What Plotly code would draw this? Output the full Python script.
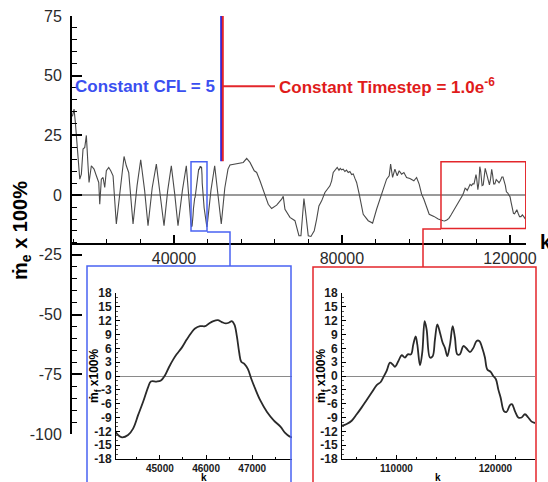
import plotly.graph_objects as go

W, H = 548, 482


def px(x):
    return x / W


def py(y):
    return 1 - y / H


FONT = "Liberation Sans, Arial, sans-serif"

# Mass-flow error history, coarse sampling (k = iteration)
k_main = [15800, 16190, 16500, 16980, 17550, 17930, 18330, 18740, 19120, 19520,
          19760, 20310, 20950, 21500, 22070, 22310, 22690, 23100, 23500, 23880,
          24450, 24930, 25480, 26260, 27070, 28100, 28640, 29210, 30240, 31200,
          32070, 33000, 33810, 34800, 35790, 36700, 37620, 38500, 39360, 40200,
          40950, 42000, 42930,
          48800, 49690, 50500, 51260, 52100, 52860, 53330, 55310, 56500, 57310,
          58100, 59120, 59690, 60480, 61500, 62450, 63260, 64450, 65640, 66020,
          66430, 67620, 68810, 69760, 70240, 70640, 70950, 71360, 71980, 72620,
          73410, 73980, 74520, 75170, 75950, 77140, 77550, 77930, 78880, 79300,
          79600, 79930, 80300, 80710, 81100, 81500, 81900, 82310, 82700, 83100,
          83500, 84120, 85070, 86260, 87310, 88260, 89450, 90240, 90640, 91260,
          91600, 92070, 92620, 93170, 93640, 94210, 94760, 95400, 96190, 97140,
          97790, 98400, 98980, 99520, 100170, 100790, 101910, 102930, 104120]
me_main = [33.0, 36.0, 30.4, 19.3, 6.7, 8.8, 19.3, 20.0, 25.0, 12.3,
           5.3, 12.3, 10.9, 8.1, 5.3, -3.8, 6.7, 7.4, 3.2, 10.2,
           11.6, 10.2, 8.1, -12.1, 1.1, 16.2, 12.3, 9.5, -12.1, 4.0,
           14.8, 2.0, -12.8, 3.0, 13.0, 1.0, -12.8, 2.0, 12.3, 0.0,
           -12.8, 2.0, 12.3,
           2.0, 12.3, 0.0, -12.1, 3.0, 10.9, 12.6, 13.4, 13.7, 15.4,
           13.7, 10.2, 9.5, 6.0, 0.4, -3.8, -5.6, -4.2, -1.7, -0.5,
           -5.9, -9.3, -10.7, -17.0, -17.0, -5.9, -1.4, -7.3, -17.0, -17.3,
           -14.9, -10.0, -4.5, -2.4, 1.1, 3.9, 6.0, 9.5, 11.6, 10.4,
           11.2, 10.6, 10.9, 9.9, 10.5, 9.5, 9.9, 8.6, 8.9, 7.0,
           5.3, 0.4, -8.0, -10.7, -11.7, -5.9, 0.4, 3.9, 6.7, 8.1,
           13.0, 7.4, 10.9, 8.1, 10.2, 8.8, 9.5, 7.4, 7.0, 6.0,
           7.4, 4.6, 0.4, -1.7, -5.2, -8.0, -8.9, -10.0, -10.7]

# Detailed window, constant CFL = 5
k_cfl = [44006, 44093, 44180, 44311, 44420, 44528, 44637, 44746, 44804, 44928,
         45022, 45109, 45196, 45290, 45362, 45471, 45580, 45689, 45761, 45870,
         45978, 46065, 46159, 46254, 46341, 46428, 46500, 46558, 46616, 46667,
         46717, 46761, 46833, 46906, 46978, 47065, 47174, 47319, 47464, 47609,
         47717, 47804, 47862]
mf_cfl = [-11.4, -12.8, -13.3, -12.8, -11.4, -8.5, -5.6, -2.4, -1.2, -1.2,
          -1.0, 0.1, 1.9, 3.6, 4.7, 6.1, 7.9, 9.5, 10.3, 10.8,
          10.8, 11.4, 11.9, 12.1, 11.7, 11.4, 11.6, 11.9, 11.1, 8.6,
          5.1, 3.1, 2.6, 1.5, -0.6, -2.8, -5.3, -7.8, -9.6, -11.0,
          -12.4, -13.1, -13.3]

# Detailed window, constant timestep
k_dt = [104470, 104975, 105480, 105985, 106490, 106995, 107500, 108005, 108410, 108670,
        109010, 109350, 109620, 109850, 110190, 110530, 110860, 111140, 111470, 111700,
        111940, 112110, 112380, 112610, 112850, 113050, 113390, 113660, 113890, 114130,
        114400, 114670, 114900, 115140, 115410, 115680, 115910, 116150, 116420, 116760,
        117100, 117430, 117770, 118100, 118370, 118710, 118940, 119180, 119520, 119780,
        120050, 120290, 120530, 120860, 121130, 121470, 121670, 121970, 122310, 122650,
        122980, 123320, 123660, 124000]
mf_dt = [-10.8, -10.4, -9.7, -8.3, -6.8, -5.2, -3.6, -2.0, -1.3, -0.3,
         1.1, 2.9, 2.5, 2.0, 3.2, 4.5, 4.0, 4.7, 4.7, 6.8,
         8.6, 6.8, 2.3, 5.1, 11.9, 10.1, 4.0, 4.3, 7.9, 11.2,
         9.4, 7.2, 6.1, 4.3, 6.8, 10.8, 8.3, 4.7, 4.7, 6.5,
         5.9, 5.2, 6.1, 7.6, 7.6, 5.8, 4.0, 1.4, 0.9, 0.0,
         -0.7, -2.9, -4.7, -7.6, -7.8, -6.3, -6.1, -7.6, -9.0, -9.0,
         -8.3, -9.0, -9.9, -10.2]

# Tick positions
x_ticks_main = [40000, 80000, 120000]
y_ticks_main = [-100, -75, -50, -25, 0, 25, 50, 75]
x_ticks_cfl = [45000, 46000, 47000]
x_ticks_dt = [110000, 120000]
y_ticks_inset = [-18, -15, -12, -9, -6, -3, 0, 3, 6, 9, 12, 15, 18]

cfl_range = [44050, 47860]
dt_range = [104500, 124000]
switch_k = 51430


def labels(vals):
    return [str(v) for v in vals]


# full history: coarse samples with the detailed windows spliced in
merged = sorted(zip(k_main + k_cfl + k_dt, me_main + mf_cfl + mf_dt))
k_all = [p[0] for p in merged]
me_all = [p[1] for p in merged]

fig = go.Figure()
fig.add_trace(go.Scatter(x=k_all, y=me_all, mode="lines",
                         line=dict(color="#4a4a4a", width=1.1),
                         xaxis="x", yaxis="y", hoverinfo="skip"))
fig.add_trace(go.Scatter(x=k_cfl, y=mf_cfl, mode="lines",
                         line=dict(color="#2a2a2a", width=1.8, shape="spline"),
                         xaxis="x2", yaxis="y2", hoverinfo="skip"))
fig.add_trace(go.Scatter(x=k_dt, y=mf_dt, mode="lines",
                         line=dict(color="#2a2a2a", width=1.8, shape="spline"),
                         xaxis="x3", yaxis="y3", hoverinfo="skip"))

BLUE = "#4a63f2"
RED = "#e3262b"
BLUE_TXT = "#3a4ff0"
RED_TXT = "#e01b1b"

main_tick_font = dict(family=FONT, size=16, color="#2a2a2a")
inset_y_font = dict(family=FONT, size=12, color="#1a1a1a", weight="bold")
inset_x_font = dict(family=FONT, size=10, color="#1a1a1a", weight="bold")


def inset_x(domain, rng, anchor, tickvals, minor_dtick):
    return dict(domain=domain, range=rng, anchor=anchor,
                showline=True, linecolor="black", linewidth=1,
                showgrid=False, zeroline=False, automargin=False,
                tickmode="array", tickvals=tickvals, ticktext=labels(tickvals),
                ticks="inside", ticklen=4, tickcolor="black",
                minor=dict(dtick=minor_dtick, tick0=0, ticks="inside", ticklen=2,
                           tickcolor="black"),
                tickfont=inset_x_font, ticklabelstandoff=0)


def inset_y(domain, anchor):
    return dict(domain=domain, range=[-18, 18], anchor=anchor,
                showline=True, linecolor="black", linewidth=1,
                showgrid=False, zeroline=True, zerolinecolor="#8a8a8a",
                zerolinewidth=1.2, automargin=False,
                tickmode="array", tickvals=y_ticks_inset,
                ticktext=labels(y_ticks_inset),
                ticks="inside", ticklen=4, tickcolor="black",
                minor=dict(dtick=1, tick0=0, ticks="inside", ticklen=2,
                           tickcolor="#555"),
                tickfont=inset_y_font, ticklabelstandoff=1)


layout = dict(
    width=W, height=H, autosize=False,
    margin=dict(l=0, r=0, t=0, b=0, pad=0, autoexpand=False),
    paper_bgcolor="white", plot_bgcolor="white",
    showlegend=False,
    xaxis=dict(domain=[px(72), px(526)], range=[15700, 123850],
               anchor="free", position=py(244), automargin=False,
               showline=True, linecolor="black", linewidth=2,
               showgrid=False, zeroline=False,
               tickmode="array", tickvals=x_ticks_main,
               ticktext=labels(x_ticks_main),
               ticks="inside", ticklen=8, tickwidth=2, tickcolor="black",
               minor=dict(dtick=8000, tick0=0, ticks="inside", ticklen=4,
                          tickwidth=1, tickcolor="black", showgrid=False),
               tickfont=main_tick_font),
    yaxis=dict(domain=[py(434), py(16)], range=[-100, 75], anchor="x",
               automargin=False,
               showline=True, linecolor="black", linewidth=2,
               showgrid=False, zeroline=True, zerolinecolor="#9a9a9a",
               zerolinewidth=1.5,
               tickmode="array", tickvals=y_ticks_main,
               ticktext=labels(y_ticks_main),
               ticks="inside", ticklen=10, tickwidth=2, tickcolor="black",
               minor=dict(dtick=5, tick0=0, ticks="inside", ticklen=5, tickwidth=1,
                          tickcolor="black", showgrid=False),
               tickfont=main_tick_font, ticklabelstandoff=5),
    xaxis2=inset_x([px(116), px(292)], cfl_range, "y2", x_ticks_cfl, 500),
    yaxis2=inset_y([py(459), py(293)], "x2"),
    xaxis3=inset_x([px(342), px(535)], dt_range, "y3", x_ticks_dt, 2000),
    yaxis3=inset_y([py(459), py(293)], "x3"),
)

shapes = [
    # switch between the two time-stepping strategies
    dict(type="line", xref="x", yref="y", x0=switch_k - 190, x1=switch_k - 190,
         y0=14.2, y1=75, line=dict(color="#2323e0", width=2)),
    dict(type="line", xref="x", yref="y", x0=switch_k + 190, x1=switch_k + 190,
         y0=14.2, y1=75, line=dict(color=RED, width=2)),
    dict(type="line", xref="x", yref="y", x0=switch_k, x1=64050,
         y0=45.6, y1=45.6, line=dict(color=RED, width=2)),
    # zoom windows in the history plot
    dict(type="rect", xref="x", yref="y", x0=cfl_range[0], x1=cfl_range[1],
         y0=-15.0, y1=14.0, line=dict(color=BLUE, width=1.5)),
    dict(type="rect", xref="x", yref="y", x0=103600, x1=123800,
         y0=-14.0, y1=14.0, line=dict(color=RED, width=1.5)),
    # connectors to the inset frames
    dict(type="path", xref="paper", yref="paper",
         path=f"M {px(207)} {py(232)} L {px(230)} {py(232)} L {px(230)} {py(266)}",
         line=dict(color=BLUE, width=1.5)),
    dict(type="path", xref="paper", yref="paper",
         path=f"M {px(441)} {py(229)} L {px(423)} {py(229)} L {px(423)} {py(267)}",
         line=dict(color=RED, width=1.5)),
    # inset frames
    dict(type="rect", xref="paper", yref="paper", x0=px(87), x1=px(291),
         y0=py(492), y1=py(266), line=dict(color=BLUE, width=1.5)),
    dict(type="rect", xref="paper", yref="paper", x0=px(313), x1=px(536),
         y0=py(492), y1=py(267), line=dict(color=RED, width=1.5)),
]

annotations = [
    dict(text="<b>Constant CFL = 5</b>", xref="x", yref="y", x=50300, y=45.6,
         xanchor="right", yanchor="middle", showarrow=False,
         font=dict(family=FONT, size=17, color=BLUE_TXT)),
    dict(text="<b>Constant Timestep = 1.0e<sup>-6</sup></b>", xref="x", yref="y",
         x=64500, y=45.6, xanchor="left", yanchor="middle", showarrow=False,
         font=dict(family=FONT, size=17, color=RED_TXT)),
    dict(text="<b>ṁ<sub>e</sub> x 100%</b>", xref="paper", yref="paper",
         x=px(21), y=py(231), textangle=-90, xanchor="center", yanchor="middle",
         showarrow=False, font=dict(family=FONT, size=20, color="black")),
    dict(text="<b>k</b>", xref="paper", yref="paper", x=px(538), y=py(242),
         xanchor="left", yanchor="middle", showarrow=False,
         font=dict(family=FONT, size=20, color="black")),
    dict(text="<b>ṁ<sub>f</sub> x100%</b>", xref="paper", yref="paper",
         x=px(95), y=py(376), textangle=-90, xanchor="center", yanchor="middle",
         showarrow=False, font=dict(family=FONT, size=12, color="black")),
    dict(text="<b>ṁ<sub>f</sub> x100%</b>", xref="paper", yref="paper",
         x=px(322), y=py(376), textangle=-90, xanchor="center", yanchor="middle",
         showarrow=False, font=dict(family=FONT, size=12, color="black")),
    dict(text="<b>k</b>", xref="paper", yref="paper", x=px(204), y=py(477.5),
         xanchor="center", yanchor="middle", showarrow=False, borderpad=0,
         font=dict(family=FONT, size=10, color="black")),
    dict(text="<b>k</b>", xref="paper", yref="paper", x=px(438), y=py(477.5),
         xanchor="center", yanchor="middle", showarrow=False, borderpad=0,
         font=dict(family=FONT, size=10, color="black")),
]

fig.update_layout(**layout, shapes=shapes, annotations=annotations)
fig.write_html("out.html")
